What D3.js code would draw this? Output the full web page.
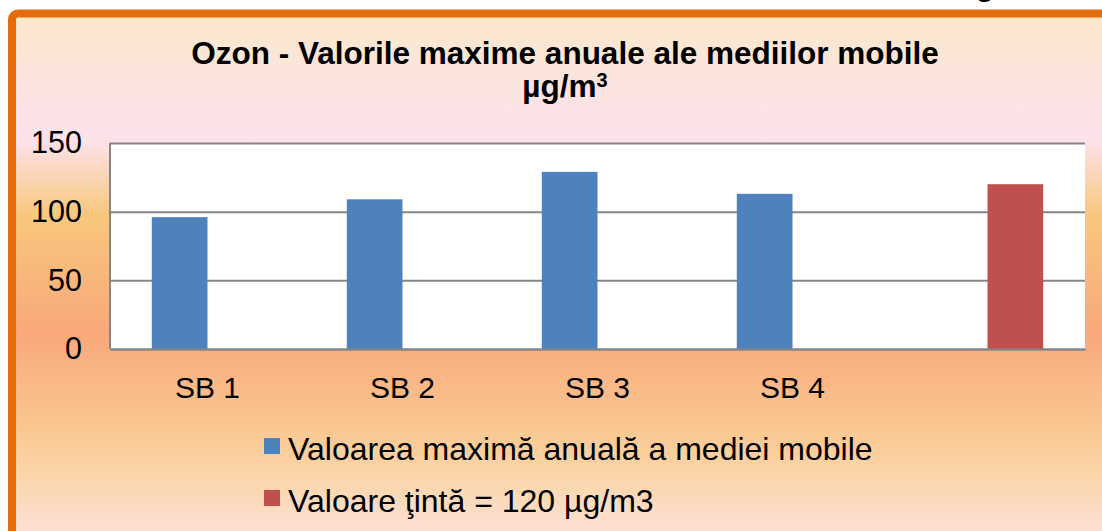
<!DOCTYPE html>
<html lang="ro">
<head>
    <meta charset="UTF-8">
    <title>Ozon</title>
    <script src="https://cdn.jsdelivr.net/npm/d3@7"></script>
    <style>
        body {
            margin: 0;
            background: #fff;
        }

        svg {
            display: block;
            font-family: "Liberation Sans", Arial, sans-serif;
        }
    </style>
</head>
<body>
<div id="graphArea"></div>
<script>
// date
let categories = ['SB 1', 'SB 2', 'SB 3', 'SB 4', '']
let seriesNames = ['Valoarea maximă anuală a mediei mobile', 'Valoare ţintă = 120 µg/m3']
let maxValues = [96, 109, 129, 113, null]
let targetValues = [null, null, null, null, 120]
let yTicks = [0, 50, 100, 150]
let colors = ['#4F81BD', '#C0504D']

let width = 1102, height = 531
let plot = {left: 110, right: 1085, top: 143, bottom: 349}

let svg = d3.select('#graphArea').append('svg')
    .attr('width', width)
    .attr('height', height)

// fundal cu gradient
let grad = svg.append('defs').append('linearGradient')
    .attr('id', 'bg').attr('x1', 0).attr('y1', 0).attr('x2', 0).attr('y2', 1)
let stops = [
    [0, '#FBE8CA'], [0.18, '#FCE3E6'], [0.24, '#FDE2EA'], [0.38, '#F8C77D'],
    [0.6, '#F9A87A'], [0.78, '#FAC791'], [0.88, '#FBD7AC'], [1, '#FDE2E0']
]
grad.selectAll('stop').data(stops).enter().append('stop')
    .attr('offset', d => d[0]).attr('stop-color', d => d[1])

svg.append('rect')
    .attr('x', 12).attr('y', 13.5)
    .attr('width', width + 20).attr('height', height)
    .attr('rx', 6)
    .attr('fill', 'url(#bg)')
    .attr('stroke', '#E46C0A')
    .attr('stroke-width', 8)

// litera taiata de deasupra chenarului
svg.append('text')
    .attr('x', 985).attr('y', -4)
    .attr('text-anchor', 'middle')
    .style('font-size', '30px').style('font-weight', 'bold')
    .text('g')

// titlu
let title = svg.append('g').style('font-weight', 'bold').style('font-size', '31.5px')
title.append('text')
    .attr('x', 565).attr('y', 64)
    .attr('text-anchor', 'middle')
    .text('Ozon - Valorile maxime anuale ale mediilor mobile')
let t2 = title.append('text')
    .attr('x', 565).attr('y', 97)
    .attr('text-anchor', 'middle')
t2.append('tspan').text('µg/m')
t2.append('tspan').attr('dy', -10).style('font-size', '20px').text('3')

// scale
let x0 = d3.scaleBand().domain(categories).range([plot.left, plot.right])
let x1 = d3.scaleBand().domain([0, 1]).range([0, x0.bandwidth()]).paddingOuter(0.75)
let y = d3.scaleLinear().domain([0, 150]).range([plot.bottom, plot.top])

svg.append('rect')
    .attr('x', plot.left).attr('y', plot.top)
    .attr('width', plot.right - plot.left).attr('height', plot.bottom - plot.top)
    .attr('fill', '#fff')

// linii de grila
let yAxis = svg.append('g')
    .attr('transform', `translate(${plot.left},0)`)
    .call(d3.axisLeft(y).tickValues(yTicks).tickSize(-(plot.right - plot.left)).tickPadding(28))
yAxis.select('.domain').remove()
yAxis.selectAll('.tick line')
    .attr('stroke', '#868686').attr('stroke-width', 2)
yAxis.selectAll('.tick text')
    .attr('fill', '#000')
    .style('font-size', '30.5px')
    .style('font-family', '"Liberation Sans", Arial, sans-serif')

svg.append('line')
    .attr('x1', plot.left).attr('x2', plot.left)
    .attr('y1', plot.top).attr('y2', plot.bottom)
    .attr('stroke', '#868686').attr('stroke-width', 2)

// bare
let series = [maxValues, targetValues]
series.forEach((vals, s) => {
    svg.append('g').selectAll('rect')
        .data(categories.map((c, i) => ({c: c, v: vals[i]})).filter(d => d.v != null))
        .enter().append('rect')
        .attr('x', d => x0(d.c) + x1(s))
        .attr('width', x1.bandwidth())
        .attr('y', d => y(d.v))
        .attr('height', d => y(0) - y(d.v))
        .attr('fill', colors[s])
})

// axa x
let xAxis = svg.append('g')
    .attr('transform', `translate(0,${plot.bottom})`)
    .call(d3.axisBottom(x0).tickSize(0).tickPadding(28))
xAxis.select('.domain')
    .attr('stroke', '#868686').attr('stroke-width', 2)
xAxis.selectAll('.tick text')
    .attr('fill', '#000')
    .style('font-size', '30px')
    .style('font-family', '"Liberation Sans", Arial, sans-serif')

// legenda
let legend = svg.append('g').selectAll('g')
    .data(seriesNames).enter().append('g')
    .attr('transform', (d, i) => `translate(264,${438 + i * 52})`)
legend.append('rect')
    .attr('width', 16).attr('height', 16)
    .attr('fill', (d, i) => colors[i])
legend.append('text')
    .attr('x', 24).attr('y', 22)
    .style('font-size', '32px')
    .text(d => d)
</script>
</body>
</html>
